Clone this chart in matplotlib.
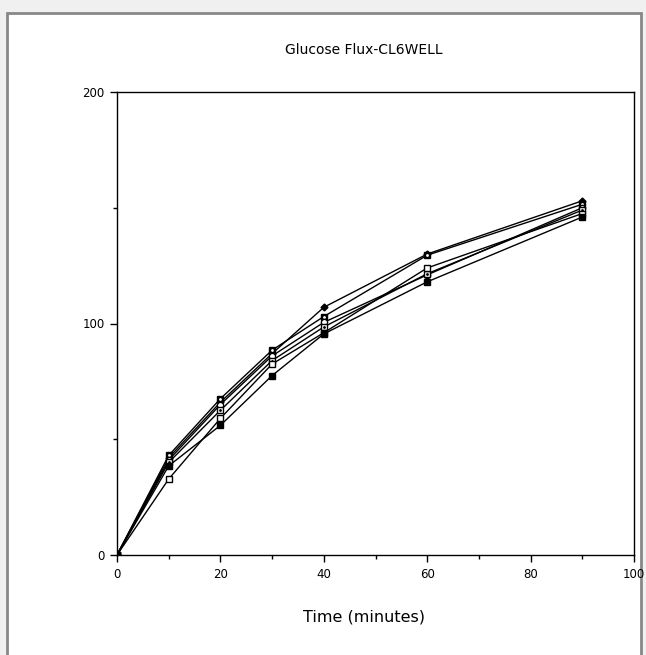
import numpy as np
import matplotlib.pyplot as plt
from matplotlib.patches import Rectangle
from matplotlib.ticker import MultipleLocator

# ---------------- data ----------------
time_min = [0, 10, 20, 30, 40, 60, 90]

flux_diamond = [0, 42.0, 66.0, 87.0, 107.0, 130.0, 153.0]
flux_dotsq   = [0, 43.0, 67.5, 88.5, 103.0, 129.5, 151.5]
flux_circle  = [0, 41.0, 65.0, 86.0, 100.5, 121.0, 150.0]
flux_dotopen = [0, 40.0, 62.5, 84.0, 98.5, 121.5, 149.0]
flux_open    = [0, 32.8, 59.0, 82.5, 96.0, 124.0, 147.5]
flux_filled  = [0, 38.5, 56.0, 77.5, 95.5, 118.0, 146.0]

x_ticks = [0, 20, 40, 60, 80, 100]
y_ticks = [0, 100, 200]

W, H = 646, 655
fig = plt.figure(figsize=(W / 100, H / 100), dpi=100)
fig.set_facecolor('#f0f0f0')

# white panel with grey frame
fig.patches.append(Rectangle((7 / W, -0.01), (641 - 7) / W, 1 - 13 / H + 0.01,
                             transform=fig.transFigure, facecolor='white',
                             edgecolor='#888888', linewidth=2, zorder=-10))

ax = fig.add_axes([117 / W, 1 - 555 / H, (634 - 117) / W, (555 - 92) / H])
ax.set_facecolor('white')

style = dict(color='black', linewidth=1.0, markersize=4.5, markeredgewidth=1.0)
ax.plot(time_min, flux_diamond, marker='D', markerfacecolor='black', markersize=3.5,
        color='black', linewidth=1.0)
ax.plot(time_min, flux_dotsq, marker='s', markerfacecolor='black', **style)
ax.plot(time_min, flux_dotsq, linestyle='none', marker='.', color='white', markersize=2)
ax.plot(time_min, flux_circle, marker='o', markerfacecolor='white', **style)
ax.plot(time_min, flux_dotopen, marker='s', markerfacecolor='white', **style)
ax.plot(time_min, flux_dotopen, linestyle='none', marker='.', color='black', markersize=2)
ax.plot(time_min, flux_open, marker='s', markerfacecolor='white', **style)
ax.plot(time_min, flux_filled, marker='s', markerfacecolor='black', **style)

ax.set_xlim(0, 100)
ax.set_ylim(0, 200)
ax.set_xticks(x_ticks)
ax.set_yticks(y_ticks)
ax.xaxis.set_minor_locator(MultipleLocator(10))
ax.yaxis.set_minor_locator(MultipleLocator(50))
ax.tick_params(which='major', direction='out', length=5, width=1, labelsize=8.5,
               colors='black', pad=4)
ax.tick_params(which='minor', direction='out', length=3, width=1)
for s in ax.spines.values():
    s.set_linewidth(1.0)
    s.set_color('black')

# text in the reference sits a little left of the axes centre
ax.set_title('Glucose Flux-CL6WELL', fontsize=10, pad=27, x=0.477)
ax.set_xlabel('Time (minutes)', fontsize=11.5, labelpad=20)
ax.xaxis.set_label_coords(0.477, -0.117)

fig.savefig('out.png', dpi=100, facecolor=fig.get_facecolor())
